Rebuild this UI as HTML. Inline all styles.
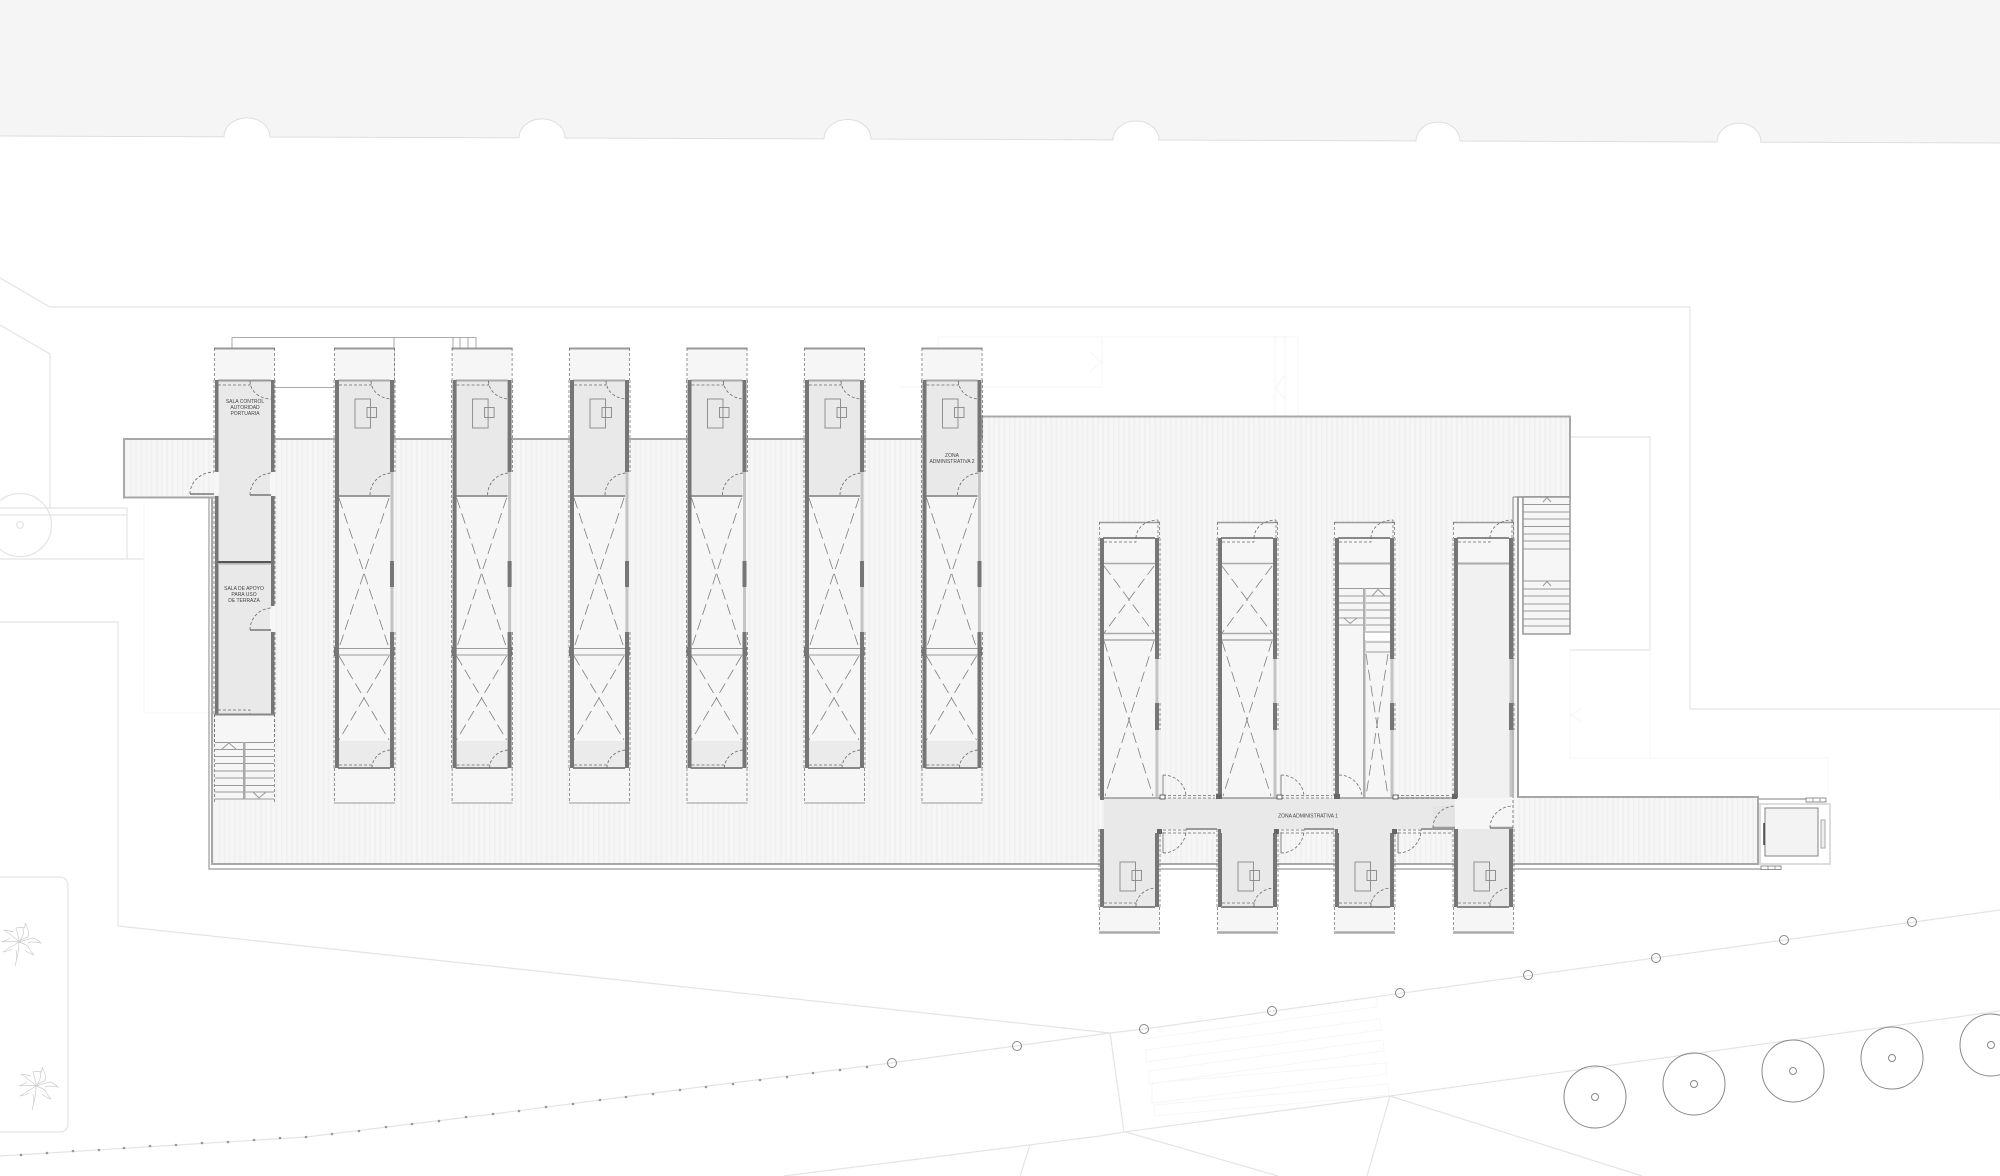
<!DOCTYPE html>
<html lang="es">
<head>
<meta charset="utf-8">
<title>Planta</title>
<style>
html,body{margin:0;padding:0;background:#fff}
svg{display:block}
.f{fill:none;stroke:#e4e4e4;stroke-width:1.2}
.ff{fill:none;stroke:#f6f6f6;stroke-width:1}
.d{fill:none;stroke:#6a6a6a;stroke-width:.7;stroke-dasharray:3 2}
.x{fill:none;stroke:#808080;stroke-width:.8;stroke-dasharray:11 5}
.a{fill:none;stroke:#6a6a6a;stroke-width:.8;stroke-dasharray:3 2}
.t{fill:none;stroke:#999;stroke-width:1}
.g{fill:none;stroke:#999;stroke-width:2}
.w{fill:#767676}
.l{fill:#c4c4c4}
.c{fill:#f6f6f6}
.r{fill:#e9e9e9}
text{font-family:"Liberation Sans",sans-serif;font-size:5px;fill:#444;text-anchor:middle}
</style>
</head>
<body>
<svg xmlns="http://www.w3.org/2000/svg" width="2000" height="1176" viewBox="0 0 2000 1176">
<defs>
<pattern id="s" width="5.2" height="10" patternUnits="userSpaceOnUse"><rect width="5.2" height="10" fill="#f6f6f6"/><rect width="1.6" height="10" fill="#f0f0f0"/></pattern>
<g id="desk"><rect x="0" y="0" width="15.500" height="29" fill="none" stroke="#888" stroke-width=".9"/><rect x="12" y="8.500" width="9.500" height="10" fill="none" stroke="#888" stroke-width=".9"/></g>
<g id="U">
<rect class="c" x="1" y="349" width="59" height="31"/>
<rect class="r" x="4" y="380" width="52" height="116"/>
<rect class="c" x="4" y="496" width="52" height="244"/>
<rect fill="#ebebeb" x="4" y="740" width="52" height="28"/>
<rect class="c" x="1" y="768" width="59" height="35"/>
<path d="M0,348.500H61" class="g"/>
<path d="M.5,348V380M60.500,348V380M.5,768V803M60.500,768V803" class="d"/>
<path d="M4,380.500H56" class="g" stroke-opacity=".8"/>
<path d="M4,496H56" class="g"/>
<path d="M4,648.500H56M4,655H56" class="t"/>
<path d="M4,768H56" class="g" style="stroke:#888"/>
<path d="M0,803H61" class="t"/>
<path d="M4,740H56" fill="none" stroke="#fff" stroke-width="1"/>
<rect class="w" x="1" y="380" width="4" height="388"/>
<rect class="l" x="56.500" y="472" width="3" height="160"/>
<rect class="w" x="56" y="380" width="4" height="92"/>
<rect class="w" x="56" y="561" width="4" height="26"/>
<rect class="w" x="56" y="632" width="4" height="136"/>
<rect class="w" x="0" y="647" width="2.500" height="9"/>
<rect class="w" x="57" y="647" width="3.500" height="9"/>
<path d="M0,380V768M61,380V472M61,632V768" class="d"/>
<path d="M5,385H37V381" class="d"/>
<path d="M37,381A21,18 0 0 0 58,399" class="a"/>
<path d="M36,495A22,22 0 0 1 58,473" class="a"/>
<path d="M38,765H5M38,768A20,18 0 0 1 58,750" class="a"/>
<path d="M5,498L55,648M55,498L5,648M5,656L55,740M55,656L5,740" class="x"/>
<use href="#desk" x="21" y="399"/>
</g>
<g id="L">
<rect class="c" x="1" y="523" width="59" height="15"/>
<rect class="c" x="4" y="538" width="52" height="262"/>
<path d="M0,522.500H61" class="t" style="stroke-width:1.500"/>
<path d="M.5,522V538M60.500,522V538M59,520V538" class="d"/>
<path d="M4,538H56" class="g" style="stroke:#888"/>
<path d="M5,542H37V538" class="d"/>
<path d="M37,538A22,18 0 0 1 59,520" class="a"/>
</g>
<g id="LW">
<rect class="w" x="1" y="538" width="4" height="262"/>
<rect class="l" x="56.500" y="659" width="3" height="138"/>
<rect class="w" x="56" y="538" width="4" height="121"/>
<rect class="w" x="56" y="703" width="4" height="27"/>
<path d="M0,538V798M61,538V659M61,703V730" class="d"/>
</g>
<g id="LX">
<path d="M4,563.500H56M4,633.500H56M4,640H56" class="t" style="stroke-width:1.500;stroke:#aaa"/>
<path d="M5,566L55,633M55,566L5,633M5,641L54,796M55,641L6,796" class="x"/>
</g>
<g id="B">
<rect class="r" x="4" y="829" width="52" height="78"/>
<rect class="c" x="1" y="907" width="59" height="26"/>
<rect class="w" x="1" y="829" width="4" height="78"/>
<rect class="w" x="56" y="829" width="4" height="78"/>
<path d="M0,829V907M61,829V907M.5,907V933M60.500,907V933" class="d"/>
<path d="M4,907H56" class="g" style="stroke:#888"/>
<path d="M0,932.500H61" fill="none" stroke="#aaa" stroke-width="2.500"/>
<path d="M5,903H37V907" class="d"/>
<path d="M37,907A21,18 0 0 1 58,888" class="a"/>
<use href="#desk" x="21" y="862"/>
</g>
<g id="palm" fill="none" stroke="#ccc" stroke-width=".7">
<path d="M0,0Q6,-8 4,-13Q7,-16 6,-19Q11,-10 9,-5Q2,-3 0,0"/>
<path d="M0,0Q-1,-8 -3,-14Q2,-15 6,-14"/>
<path d="M0,0Q10,-3 14,-4Q18,-3 22,1Q13,-1 9,1"/>
<path d="M0,0Q9,3 10,6Q12,10 15,13Q9,11 6,8"/>
<path d="M0,0Q0,10 -4,24Q-1,14 -3,8"/>
<path d="M0,0Q-8,5 -16,10Q-10,9 -7,7"/>
<path d="M0,0Q-8,-1 -17,0Q-10,-3 -9,-4"/>
<path d="M0,0Q-6,-6 -15,-12Q-9,-11 -5,-10"/>
</g>
</defs>
<rect width="2000" height="1176" fill="#fff"/>

<!-- top band -->
<path d="M0,0H2000V143L1761,142.200A22,19 0 0 0 1717,142L1460,141A22,19 0 0 0 1416,141L1159,140A23,19 0 0 0 1113,139.900L871,139A23,19 0 0 0 824,138.900L565,138A23,19 0 0 0 519,137.800L270,137A23,19 0 0 0 224,136.800L0,136Z" fill="#f5f5f5"/>
<path d="M2000,143L1761,142.200A22,19 0 0 0 1717,142L1460,141A22,19 0 0 0 1416,141L1159,140A23,19 0 0 0 1113,139.900L871,139A23,19 0 0 0 824,138.900L565,138A23,19 0 0 0 519,137.800L270,137A23,19 0 0 0 224,136.800L0,136" fill="none" stroke="#dedede" stroke-width="1"/>

<!-- site lines -->
<polyline class="f" points="0,278 50,307 1690,307 1690,709 2000,709"/>
<polyline class="f" points="0,325 50,354 50,508"/>
<path class="f" d="M0,508H127V559H0M0,515H127M127,559H144"/>
<circle class="f" cx="20" cy="525" r="31.500"/>
<circle class="f" cx="20" cy="525" r="3.300"/>
<path class="ff" d="M144,502V713H209"/>
<polyline class="f" points="0,622 118,622 118,926 500,967 1110,1033"/>
<rect class="f" x="-20" y="877" width="88" height="255" rx="8"/>
<use href="#palm" x="19" y="942"/>
<use href="#palm" x="36" y="1086"/>
<path class="f" d="M1570,437H1650V650H1570"/>
<path class="ff" d="M1570,650V758H1828V795M1650,650V758M1582,708L1571,715L1582,722M2000,709V800"/>
<path class="ff" d="M938,387V337H1298V416M1102,337V387H900M1275,337V416M1285,337V416M1090,352L1101,362L1090,372M1285,375L1276,388L1285,400"/>

<!-- terraces -->
<path d="M124,439H982V416.500H1570V497H1518V797H1758V864H212V497.500H124Z" fill="url(#s)" stroke="#a8a8a8" stroke-width="2"/>
<path d="M209,498V869H1761" fill="none" stroke="#999" stroke-width="1.200"/>
<path d="M124,497.500H212" fill="none" stroke="#a8a8a8" stroke-width="2"/>
<path d="M1513,497V798M1523,497V634M1513,497H1523" fill="none" stroke="#aaa" stroke-width="1.500"/>
<path d="M1518,497V797" fill="none" stroke="#999" stroke-width="1.500"/>

<!-- connectors above -->
<path d="M232,348V337.500H476V348M394,337V439M453,337V348M460,337V348M468,337V348M476,337V348M275,387.500H334" fill="none" stroke="#aaa" stroke-width="1"/>

<!-- right stair -->
<rect x="1523" y="497" width="47" height="137" class="c" stroke="#999" stroke-width="1.500"/>
<path d="M1523,504.500H1570M1523,512H1570M1523,519H1570M1523,526.500H1570M1523,534H1570M1523,541H1570M1523,549H1570M1523,581H1570M1523,589H1570M1523,596H1570M1523,604H1570M1523,611H1570M1523,619H1570M1523,626H1570M1543,502L1547,497.500L1551,502M1543,586L1547,581.500L1551,586" class="t"/>

<!-- upper modules -->
<use href="#U" x="334"/>
<use href="#U" x="451.600"/>
<use href="#U" x="569"/>
<use href="#U" x="686.500"/>
<use href="#U" x="804"/>
<use href="#U" x="921.500"/>
<text x="952" y="457">ZONA</text>
<text x="952" y="463">ADMINISTRATIVA 2</text>

<!-- module 1 -->
<rect class="c" x="215" y="349" width="59" height="31"/>
<rect class="r" x="218" y="380" width="53" height="334"/>
<rect x="214" y="472" width="5" height="22" fill="#f7f7f7"/>
<rect x="270" y="473" width="5" height="22" fill="#f7f7f7"/>
<rect x="270" y="608" width="5" height="22" fill="#f7f7f7"/>
<path d="M214,348.500H275" class="g"/>
<path d="M214.500,348V380M274.500,348V380M214.500,714V742M274.500,714V742" class="d"/>
<path d="M218,380.500H271" class="g"/>
<rect class="w" x="215" y="380" width="3.500" height="92"/>
<rect class="w" x="215" y="496" width="3.500" height="218"/>
<rect class="w" x="271" y="380" width="3.500" height="92"/>
<rect class="w" x="271" y="496" width="3.500" height="110"/>
<rect class="w" x="271" y="632" width="3.500" height="82"/>
<path d="M214,380V472M214,496V714M275,380V472M275,496V606M275,632V714" class="d"/>
<rect x="218" y="561" width="53" height="2.200" fill="#555"/>
<rect x="218" y="563.200" width="53" height="1.500" fill="#bbb"/>
<path d="M218,385H250V381" class="d"/>
<path d="M250,381A21,18 0 0 0 271,399" class="a"/>
<path d="M190,494H214" fill="none" stroke="#777" stroke-width="1.500"/>
<path d="M190,494A24,22 0 0 1 214,472" class="a"/>
<path d="M250,495H271" fill="none" stroke="#777" stroke-width="1.500"/>
<path d="M250,495A22,22 0 0 1 272,473" class="a"/>
<path d="M250,630H271" fill="none" stroke="#777" stroke-width="1.500"/>
<path d="M250,630A22,22 0 0 1 272,608" class="a"/>
<path d="M218,710H250V714" class="d"/>
<rect class="c" x="215" y="715" width="59" height="85"/>
<path d="M215,714.500H275" class="g" style="stroke:#888"/>
<path d="M214.500,714V802M274.500,714V802" class="d"/>
<path d="M215,742.500H274M215,749.500H243M245,749.500H274M215,756.500H243M245,756.500H274M215,763.500H243M245,763.500H274M215,771H243M245,771H274M215,778H243M245,778H274M215,785.500H243M245,785.500H274M215,792H243M245,792H274M215,799H274" class="t"/>
<rect x="243" y="742" width="2.500" height="57" fill="#aaa"/>
<path d="M222,749L229,743L236,749M253,792L259,798L266,792" class="t"/>
<text x="245" y="403">SALA CONTROL</text>
<text x="245" y="409">AUTORIDAD</text>
<text x="245" y="415">PORTUARIA</text>
<text x="244" y="590">SALA DE APOYO</text>
<text x="244" y="596">PARA USO</text>
<text x="244" y="602">DE TERRAZA</text>

<!-- lower modules -->
<use href="#L" x="1099"/><use href="#L" x="1217"/><use href="#L" x="1334"/><use href="#L" x="1453"/>
<rect fill="#f1f1f1" x="1459" y="564" width="51" height="234"/>
<path d="M1458,563.500H1510" class="g" style="stroke:#aaa"/>
<use href="#LX" x="1099"/><use href="#LX" x="1217"/>
<!-- stair module -->
<path d="M1339,563.500H1390" class="g" style="stroke:#aaa"/>
<rect class="c" x="1339" y="588" width="51" height="64"/>
<path d="M1339,588.500H1390M1339,596H1363M1366,596H1390M1339,603H1363M1366,603H1390M1339,610H1363M1366,610H1390M1339,618H1363M1366,618H1390M1339,625H1363M1366,625H1390M1366,632H1390M1366,642H1390M1366,652H1390" class="t"/>
<rect x="1363" y="588" width="2.500" height="210" fill="#b0b0b0"/>
<rect x="1365" y="633" width="25" height="7" fill="#fff"/>
<path d="M1372,596L1378,589.500L1385,596M1344,618L1350,623.500L1357,618" class="t"/>
<path d="M1366,654L1388,796M1388,654L1366,796" class="x"/>
<use href="#LW" x="1099"/><use href="#LW" x="1217"/><use href="#LW" x="1334"/><use href="#LW" x="1453"/>
<path d="M1339,775A23,23 0 0 1 1362,798" class="a"/>

<!-- corridor -->
<rect class="r" x="1104" y="798" width="351" height="31"/>
<rect x="1455" y="798" width="58" height="31" fill="#f6f6f6"/>
<rect x="1433" y="806" width="22" height="22" fill="#e4e4e4"/>
<path d="M1104,798H1160M1217,798H1280M1334,798H1398M1453,798H1376" class="t" style="stroke-width:1.500"/>
<path d="M1186,829H1217M1304,829H1334M1421,829H1453M1104,829" class="g"/>
<path d="M1433,828H1455M1490,828H1513" fill="none" stroke="#999" stroke-width="2.500"/>
<path d="M1433,828A22,22 0 0 1 1455,806M1490,828A23,22 0 0 1 1513,806M1481,830A21,23 0 0 1 1460,853M1513,800V828" class="a"/>
<use href="#B" x="1099"/><use href="#B" x="1217"/><use href="#B" x="1334"/><use href="#B" x="1453"/>
<rect class="r" x="1104" y="800" width="53" height="33"/>
<rect class="r" x="1221" y="800" width="53" height="33"/>
<rect class="r" x="1338" y="800" width="54" height="33"/>
<path d="M1163,775V797M1281,775V797M1163,832V853M1281,832V853M1398,832V853" fill="none" stroke="#999" stroke-width="1.200"/>
<path d="M1163,775A23,22 0 0 1 1186,797M1281,775A23,22 0 0 1 1304,797M1163,853A23,23 0 0 0 1186,830M1281,853A23,23 0 0 0 1304,830M1398,853A23,23 0 0 0 1421,830" class="a"/>
<path d="M1163,795.500H1215M1163,798H1215M1281,795.500H1332M1281,798H1332M1396,795.500H1451M1396,798H1451M1163,830H1186M1163,833H1215M1281,830H1304M1281,833H1334M1398,830H1421M1398,833H1451" class="a" style="stroke-width:.7"/>
<rect x="1216" y="794" width="6" height="5" fill="#666"/>
<rect x="1334" y="794" width="6" height="5" fill="#666"/>
<rect x="1452" y="794" width="5" height="5" fill="#666"/>
<rect x="1160" y="795" width="5" height="4" fill="#fff" stroke="#444" stroke-width=".8"/>
<rect x="1277" y="795" width="5" height="4" fill="#fff" stroke="#444" stroke-width=".8"/>
<rect x="1393" y="795" width="5" height="4" fill="#fff" stroke="#444" stroke-width=".8"/>
<rect x="1157" y="829" width="5" height="5" fill="#666"/>
<rect x="1274" y="829" width="5" height="5" fill="#666"/>
<rect x="1392" y="829" width="5" height="5" fill="#666"/>
<text x="1308" y="817.500">ZONA ADMINISTRATIVA 1</text>

<!-- pavilion -->
<path d="M1758,799H1806" fill="none" stroke="#aaa" stroke-width="1.500"/>
<rect x="1806" y="798" width="20" height="4" fill="#fff" stroke="#777" stroke-width=".8"/>
<path d="M1813,798V802M1820,798V802" class="t"/>
<rect x="1760" y="804" width="70" height="60" fill="#fff" stroke="#ddd" stroke-width="2"/>
<rect x="1761" y="866" width="20" height="3.500" fill="#fff" stroke="#777" stroke-width=".8"/>
<path d="M1768,866V869M1775,866V869" class="t"/>
<rect x="1765" y="808" width="53" height="48" fill="#f3f3f3" stroke="#777" stroke-width=".9"/>
<path d="M1764,823V845" stroke="#444" stroke-width="1.500" fill="none"/>
<rect x="1821" y="820" width="4" height="28" fill="#eee" stroke="#aaa"/>

<!-- road and bollards -->
<path class="f" d="M2000,910L1144,1029L1110,1033L891,1063L700,1087L493,1114L306,1137L0,1156"/>
<path class="f" d="M2000,1011L1390,1096L1124,1132L1100,1136L784,1176M1110,1033L1124,1132M1126,1132L1278,1176M1390,1096L1367,1176M1390,1096L1642,1176M1030,1145L1020,1176"/>
<path class="ff" d="M1143,1039L1377,1007V998M1146,1050L1380,1019L1381,1030L1146,1062ZM1149,1071L1383,1040L1384,1051L1149,1084ZM1152,1083L1386,1063L1387,1074L1152,1103ZM1154,1105L1388,1084L1389,1095L1155,1116Z"/>
<g fill="none" stroke="#888" stroke-width="1">
<circle cx="1144" cy="1029" r="4.500"/><circle cx="1272" cy="1011" r="4.500"/><circle cx="1400" cy="993" r="4.500"/><circle cx="1528" cy="975" r="4.500"/><circle cx="1656" cy="958" r="4.500"/><circle cx="1784" cy="940" r="4.500"/><circle cx="1912" cy="922" r="4.500"/>
<circle cx="1017" cy="1046" r="4.500"/><circle cx="892" cy="1063" r="4.500"/>
<circle cx="1595" cy="1097" r="31"/><circle cx="1595" cy="1097" r="3.500"/>
<circle cx="1694" cy="1084" r="31"/><circle cx="1694" cy="1084" r="3.500"/>
<circle cx="1793" cy="1071" r="31"/><circle cx="1793" cy="1071" r="3.500"/>
<circle cx="1892" cy="1058" r="31"/><circle cx="1892" cy="1058" r="3.500"/>
<circle cx="1991" cy="1045" r="31"/><circle cx="1991" cy="1045" r="3.500"/>
</g>
<g fill="#999">
<circle cx="21" cy="1155" r="1.300"/><circle cx="47" cy="1153" r="1.300"/><circle cx="73" cy="1151" r="1.300"/><circle cx="99" cy="1150" r="1.300"/><circle cx="124" cy="1148" r="1.300"/><circle cx="150" cy="1146" r="1.300"/><circle cx="176" cy="1145" r="1.300"/><circle cx="202" cy="1143" r="1.300"/><circle cx="228" cy="1142" r="1.300"/><circle cx="254" cy="1140" r="1.300"/><circle cx="280" cy="1138" r="1.300"/><circle cx="306" cy="1137" r="1.300"/><circle cx="332" cy="1134" r="1.300"/><circle cx="359" cy="1131" r="1.300"/><circle cx="386" cy="1127" r="1.300"/><circle cx="412" cy="1124" r="1.300"/><circle cx="439" cy="1121" r="1.300"/><circle cx="466" cy="1117" r="1.300"/><circle cx="493" cy="1114" r="1.300"/><circle cx="519" cy="1111" r="1.300"/><circle cx="546" cy="1107" r="1.300"/><circle cx="573" cy="1104" r="1.300"/><circle cx="600" cy="1100" r="1.300"/><circle cx="626" cy="1097" r="1.300"/><circle cx="653" cy="1094" r="1.300"/><circle cx="680" cy="1090" r="1.300"/><circle cx="706" cy="1087" r="1.300"/><circle cx="733" cy="1084" r="1.300"/><circle cx="760" cy="1080" r="1.300"/><circle cx="787" cy="1077" r="1.300"/><circle cx="813" cy="1073" r="1.300"/><circle cx="840" cy="1070" r="1.300"/><circle cx="867" cy="1067" r="1.300"/>
</g>
</svg>
</body>
</html>
